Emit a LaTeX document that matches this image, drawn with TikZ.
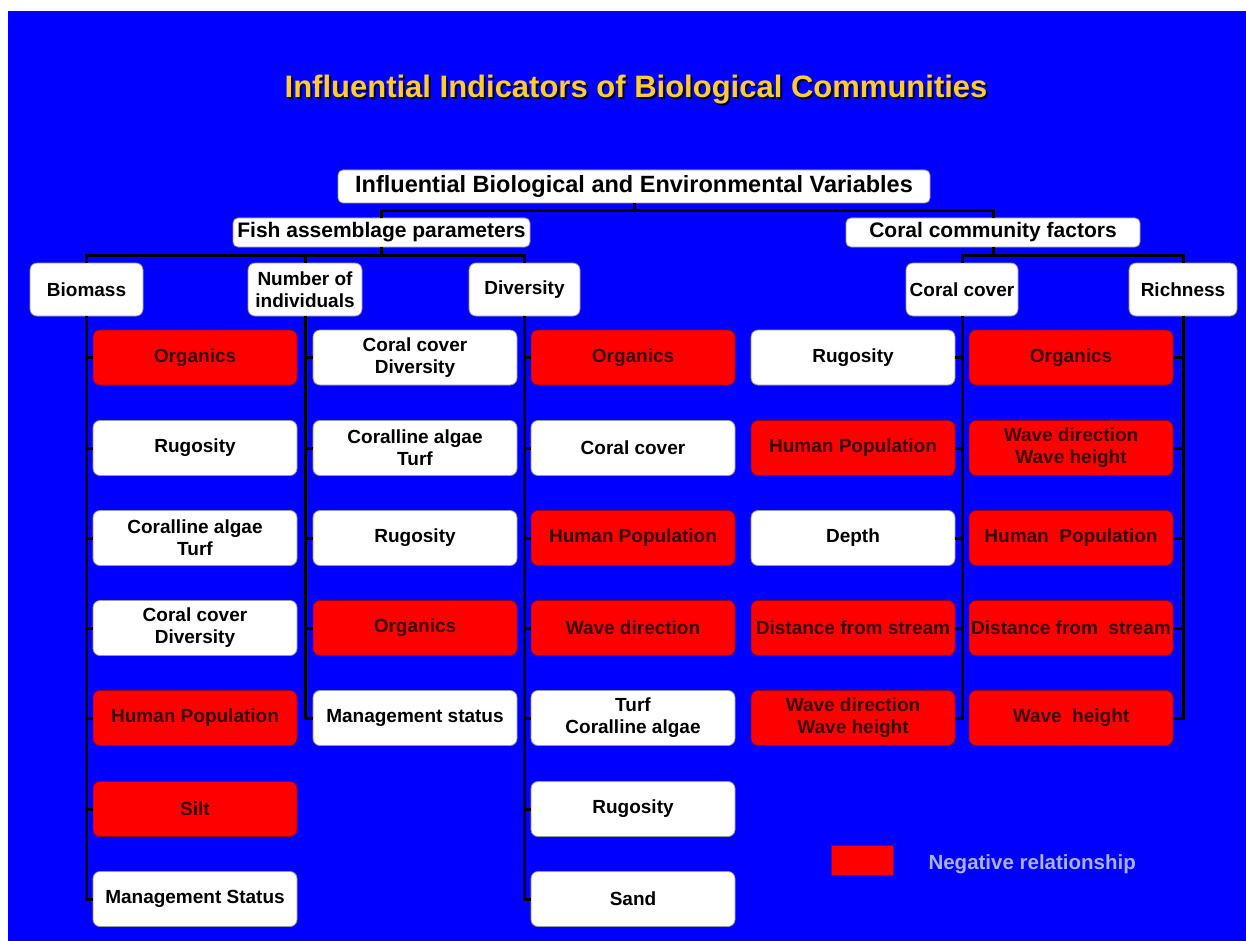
\documentclass[tikz,border=0pt]{standalone}
\usepackage{fontspec}
\setmainfont{Liberation Sans}
\definecolor{bgblue}{RGB}{0,0,255}
\definecolor{boxred}{RGB}{255,0,0}
\definecolor{redborder}{RGB}{150,0,20}
\definecolor{redtext}{RGB}{60,0,0}
\definecolor{titlegold}{RGB}{255,204,51}
\definecolor{legendtext}{RGB}{170,178,235}
\tikzset{
  base/.style={rounded corners=7pt, align=center, inner sep=0pt, font=\bfseries\fontsize{19}{22}\selectfont},
  wbox/.style={base, fill=white, draw=black!40, line width=0.8pt, text=black, minimum width=204pt, minimum height=55pt},
  rbox/.style={base, fill=boxred, draw=redborder, line width=0.8pt, text=redtext, minimum width=204pt, minimum height=55pt},
  hdr/.style={base, fill=white, draw=black!40, line width=0.8pt, text=black, minimum height=53pt},
  top/.style={base, fill=white, draw=black!40, line width=0.8pt, text=black, rounded corners=5pt},
  conn/.style={draw=black, line width=3pt},
}
\begin{document}
\begin{tikzpicture}[x=1pt,y=-1pt]
\useasboundingbox (0,0) rectangle (1246,941);
\fill[bgblue] (8,11) rectangle (1246,941);

% title
\node[font=\bfseries\fontsize{31}{36}\selectfont, text=black!85!blue] (titleshadow) at (638,92) {Influential Indicators of Biological Communities};
\node[font=\bfseries\fontsize{31}{36}\selectfont, text=titlegold] (title) at (636,90) {Influential Indicators of Biological Communities};

% top level
\node[top, minimum width=592pt, minimum height=33pt, font=\bfseries\fontsize{23.5}{26}\selectfont] (root) at (634,186.5) {Influential Biological and Environmental Variables};
\node[top, minimum width=297pt, minimum height=29pt, font=\bfseries\fontsize{21}{24}\selectfont] (fish) at (381.5,232.5) {Fish assemblage parameters};
\node[top, minimum width=294pt, minimum height=29pt, font=\bfseries\fontsize{21}{24}\selectfont] (coralcomm) at (993,232.5) {Coral community factors};

% headers
\node[hdr, minimum width=113pt] (biomass) at (86.5,289.5) {Biomass};
\node[hdr, minimum width=114pt] (number) at (305,289.5) {Number of\\individuals};
\node[hdr, minimum width=111pt] (diversity) at (524.5,289.5) {Diversity};
\node[hdr, minimum width=112pt] (coralcover) at (962,289.5) {Coral cover};
\node[hdr, minimum width=108pt] (richness) at (1183,289.5) {Richness};

% column 1: Biomass
\node[rbox] (a1) at (195,357.5) {Organics};
\node[wbox] (a2) at (195,448) {Rugosity};
\node[wbox] (a3) at (195,538) {Coralline algae\\Turf};
\node[wbox] (a4) at (195,628) {Coral cover\\Diversity};
\node[rbox] (a5) at (195,718) {Human Population};
\node[rbox] (a6) at (195,809) {Silt};
\node[wbox] (a7) at (195,899) {Management Status};

% column 2: Number of individuals
\node[wbox] (b1) at (415,357.5) {Coral cover\\Diversity};
\node[wbox] (b2) at (415,448) {Coralline algae\\Turf};
\node[wbox] (b3) at (415,538) {Rugosity};
\node[rbox] (b4) at (415,628) {Organics};
\node[wbox] (b5) at (415,718) {Management status};

% column 3: Diversity
\node[rbox] (c1) at (633,357.5) {Organics};
\node[wbox] (c2) at (633,448) {Coral cover};
\node[rbox] (c3) at (633,538) {Human Population};
\node[rbox] (c4) at (633,628) {Wave direction};
\node[wbox] (c5) at (633,718) {Turf\\Coralline algae};
\node[wbox] (c6) at (633,809) {Rugosity};
\node[wbox] (c7) at (633,899) {Sand};

% column 4: Coral cover
\node[wbox] (d1) at (853,357.5) {Rugosity};
\node[rbox] (d2) at (853,448) {Human Population};
\node[wbox] (d3) at (853,538) {Depth};
\node[rbox] (d4) at (853,628) {Distance from stream};
\node[rbox] (d5) at (853,718) {Wave direction\\Wave height};

% column 5: Richness
\node[rbox] (e1) at (1071,357.5) {Organics};
\node[rbox] (e2) at (1071,448) {Wave direction\\Wave height};
\node[rbox] (e3) at (1071,538) {Human\ \ Population};
\node[rbox] (e4) at (1071,628) {Distance from\ \ stream};
\node[rbox] (e5) at (1071,718) {Wave\ \ height};

% legend
\node[fill=boxred, draw=redborder, line width=1pt, minimum width=62pt, minimum height=30pt, inner sep=0pt] (legbox) at (862,860) {};
\node[font=\bfseries\fontsize{20.5}{24}\selectfont, text=legendtext, anchor=west] (legtext) at (925,864) {Negative relationship};

% connectors
\draw[conn] (root.south) -- ++(0,7.5) -| (fish.north);
\draw[conn] (root.south) -- ++(0,7.5) -| (coralcomm.north);
\draw[conn] (fish.south) -- ++(0,8) -| (biomass.north);
\draw[conn] (fish.south) -- ++(0,8) -| (number.north);
\draw[conn] (fish.south) -- ++(0,8) -| (diversity.north);
\draw[conn] (coralcomm.south) -- ++(0,8) -| (coralcover.north);
\draw[conn] (coralcomm.south) -- ++(0,8) -| (richness.north);

\foreach \c in {a1,a2,a3,a4,a5,a6,a7} \draw[conn] (biomass.south) |- (\c.west);
\foreach \c in {b1,b2,b3,b4,b5} \draw[conn] (number.south) |- (\c.west);
\foreach \c in {c1,c2,c3,c4,c5,c6,c7} \draw[conn] (diversity.south) |- (\c.west);
\foreach \c in {d1,d2,d3,d4,d5} \draw[conn] (coralcover.south) |- (\c.east);
\foreach \c in {e1,e2,e3,e4,e5} \draw[conn] (richness.south) |- (\c.east);
\end{tikzpicture}
\end{document}
